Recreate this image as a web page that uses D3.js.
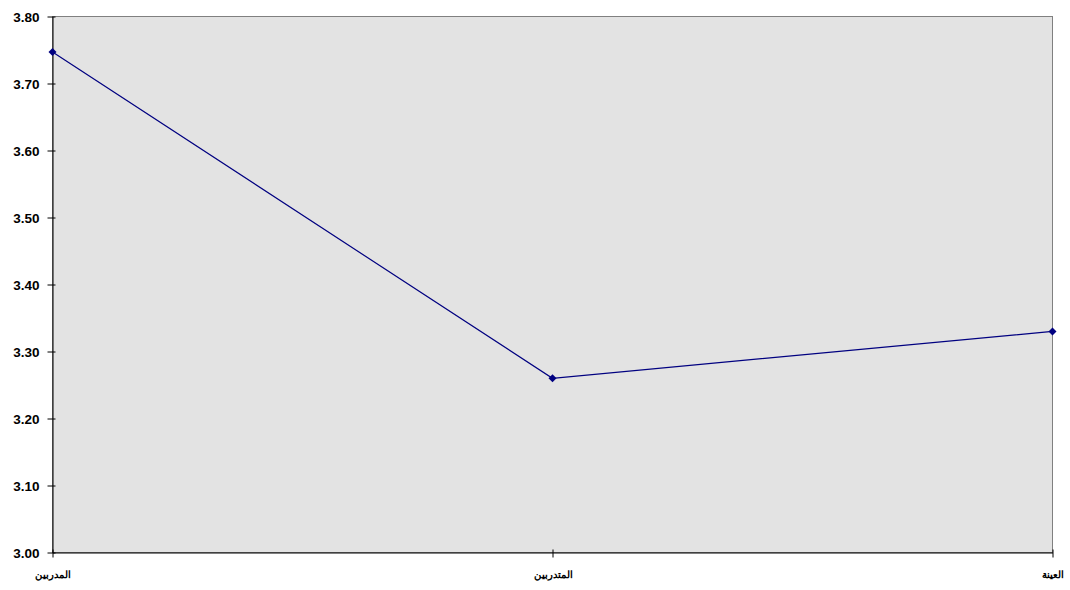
<!DOCTYPE html>
<html><head><meta charset="utf-8">
<script src="https://cdn.jsdelivr.net/npm/d3@7"></script>
<style>body{margin:0;background:#fff;} svg{display:block;}</style>
</head><body>
<script>
const categories = ["المدربين", "المتدربين", "العينة"];
const values = [3.747, 3.26, 3.33];
const yTicks = [3.0, 3.1, 3.2, 3.3, 3.4, 3.5, 3.6, 3.7, 3.8];

const W = 1070, H = 590;
const m = {left: 52.5, top: 16.5, right: 1052.5, bottom: 552.5};
const svg = d3.select("body").append("svg").attr("width", W).attr("height", H);

const x = d3.scalePoint().domain(categories).range([m.left, m.right]).padding(0);
const y = d3.scaleLinear().domain([3.0, 3.8]).range([m.bottom, m.top]);

svg.append("rect").attr("x", m.left).attr("y", m.top)
  .attr("width", m.right - m.left).attr("height", m.bottom - m.top)
  .attr("fill", "#e3e3e3").attr("stroke", "#808080").attr("stroke-width", 1);

const yAxis = svg.append("g").attr("transform", `translate(${m.left},0)`)
  .call(d3.axisLeft(y).tickValues(yTicks).tickFormat(d3.format(".2f")).tickSizeInner(5).tickSizeOuter(0).tickPadding(8));
yAxis.selectAll(".tick line").attr("x2", -5).attr("x1", 3);
yAxis.select(".domain").attr("stroke", "#000");
yAxis.selectAll("text").attr("font-family", "Arial, 'Liberation Sans', sans-serif")
  .attr("font-size", 13.5).attr("font-weight", "bold").attr("fill", "#000").attr("dy", "0.35em");

const xAxis = svg.append("g").attr("transform", `translate(0,${m.bottom})`)
  .call(d3.axisBottom(x).tickSizeInner(5).tickSizeOuter(0).tickPadding(13));
xAxis.selectAll(".tick line").attr("y1", -3).attr("y2", 5);
xAxis.select(".domain").attr("stroke", "#000");
xAxis.selectAll("text").attr("font-family", "Arial, 'Liberation Sans', sans-serif")
  .attr("font-size", 10).attr("font-weight", "bold").attr("fill", "#000");

const pts = categories.map((c, i) => [x(c), y(values[i])]);
svg.append("path").attr("d", d3.line()(pts)).attr("fill", "none")
  .attr("stroke", "#000080").attr("stroke-width", 1.2);

svg.selectAll(".mk").data(pts).enter().append("path")
  .attr("transform", d => `translate(${d[0]},${d[1]})`)
  .attr("d", "M0,-4L4,0L0,4L-4,0Z").attr("fill", "#000080");
</script>
</body></html>
